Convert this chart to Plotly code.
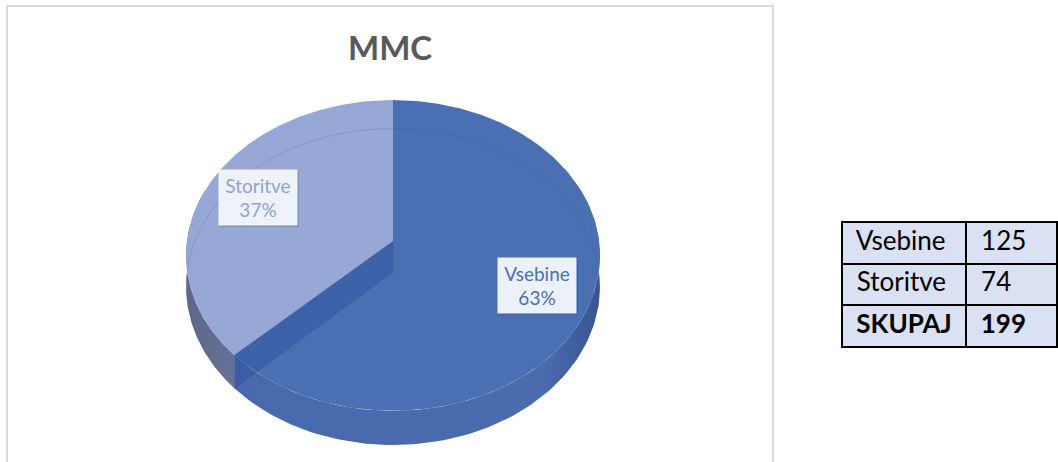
import numpy as np
import plotly.graph_objects as go

# ---------------- data ----------------
title_text = "MMC"
categories = ["Vsebine", "Storitve"]
values = [125, 74]
total_label = "SKUPAJ"

# ---------------- geometry / style ----------------
W, H = 1058, 462
cx, cy = 393, 241        # centre of top face
rx, ry = 206, 154        # radii of top face
persp = 0.093            # perspective factor
depth = 31               # thickness of pie

top_colors = {"Vsebine": "#4A70B3", "Storitve": "#97A8D6"}
side_scales = {
    "Vsebine": [[0, "#3c5a9a"], [0.15, "#4869AC"], [0.85, "#4A6BAD"], [1, "#35528e"]],
    "Storitve": [[0, "#5c6789"], [0.45, "#8190c0"], [1, "#9aa8d4"]],
}
label_text_colors = {"Vsebine": "#4A6FB5", "Storitve": "#8FA3D6"}
label_centers = {"Vsebine": (537, 285), "Storitve": (258, 197)}
FONT = "Lato"


def proj(theta_deg, down=0.0):
    t = np.radians(theta_deg)
    u = -np.cos(t)
    f = 1.0 / (1.0 - persp * u)
    x = cx + rx * np.sin(t) * f
    y = cy + ry * u * f + down * f
    return x, y


total = sum(values)
fracs = [v / total for v in values]
angles = np.concatenate([[0], np.cumsum(fracs) * 360])

fig = go.Figure()

# ---- side walls (front half) ----
for i, cat in enumerate(categories):
    a, b = angles[i], angles[i + 1]
    lo, hi = max(a, 70), min(b, 290)
    if hi <= lo:
        continue
    th = np.linspace(lo, hi, 120)
    xt, yt = proj(th)
    xb, yb = proj(th[::-1], depth)
    xs = np.concatenate([xt, xb, xt[:1]])
    ys = np.concatenate([yt, yb, yt[:1]])
    fig.add_trace(go.Scatter(
        x=xs, y=ys, mode="lines", line=dict(width=0), fill="toself",
        fillgradient=dict(type="horizontal", colorscale=side_scales[cat],
                          start=cx - rx - 2, stop=cx + rx + 8),
        hoverinfo="skip", showlegend=False))

# ---- top faces ----
for i, cat in enumerate(categories):
    a, b = angles[i], angles[i + 1]
    th = np.linspace(a, b, 200)
    xa, ya = proj(th)
    xs = np.concatenate([[cx], xa, [cx]])
    ys = np.concatenate([[cy], ya, [cy]])
    fig.add_trace(go.Scatter(
        x=xs, y=ys, mode="lines", line=dict(width=0), fill="toself",
        fillcolor=top_colors[cat], hoverinfo="skip", showlegend=False))

# ---- cut face seen through (boundary between slices) ----
bnd = angles[1]
ex, ey = proj(bnd)
ebx, eby = proj(bnd, depth)
fig.add_trace(go.Scatter(
    x=[cx, ex, ebx, cx, cx], y=[cy, ey, eby, cy + depth, cy],
    mode="lines", line=dict(width=0.6, color="rgba(40,65,140,0.35)"),
    fill="toself", fillcolor="rgba(45,75,155,0.38)",
    hoverinfo="skip", showlegend=False))

# ---- bottom rim seen through transparent top ----
th = np.linspace(-103, 103, 200)
bx, by = proj(th, depth)
fig.add_trace(go.Scatter(
    x=bx, y=by, mode="lines", line=dict(width=1, color="rgba(50,70,130,0.18)"),
    hoverinfo="skip", showlegend=False))

# ---- table (category rows + bold total row) ----
PAD = "\u00a0"
tbl_col1 = [PAD + c for c in categories]
tbl_col2 = [PAD + str(v) for v in values]
common = dict(fill=dict(color="#D9E1F2"), line=dict(color="black", width=2),
              align="left", height=41.5)
row_font = dict(family=FONT, size=26, color="black")
fig.add_trace(go.Table(
    domain=dict(x=[842 / W, 1.0], y=[1 - 320 / H, 1 - 222 / H]),
    columnwidth=[125, 91],
    header=dict(values=[tbl_col1[0], tbl_col2[0]], font=row_font, **common),
    cells=dict(values=[tbl_col1[1:], tbl_col2[1:]], font=row_font, **common),
))
fig.add_trace(go.Table(
    domain=dict(x=[842 / W, 1.0], y=[1 - 380 / H, 1 - 305 / H]),
    columnwidth=[125, 91],
    header=dict(values=[PAD + total_label, PAD + str(total)],
                font=dict(family=FONT, size=26, color="black", weight="bold"), **common),
    cells=dict(values=[]),
))

# ---- annotations ----
annotations = [dict(x=390, y=47, xref="x", yref="y", text=f"<b>{title_text}</b>",
                    showarrow=False, font=dict(family=FONT, size=33, color="#595959"))]
shapes = [dict(type="rect", xref="x", yref="y", x0=7, x1=773, y0=6, y1=475,
               line=dict(color="#D9D9D9", width=2), fillcolor="rgba(0,0,0,0)", layer="below")]
for i, cat in enumerate(categories):
    pct = round(fracs[i] * 100)
    lx, ly = label_centers[cat]
    shapes.append(dict(type="rect", xref="x", yref="y", x0=lx - 38, x1=lx + 41,
                       y0=ly - 26, y1=ly + 30, line=dict(width=0),
                       fillcolor="rgba(30,45,100,0.18)", layer="above"))
    annotations.append(dict(
        x=lx, y=ly, xref="x", yref="y", text=f"{cat}<br>{pct}%", showarrow=False,
        width=78, height=55, borderpad=0, bgcolor="rgba(244,246,251,0.96)",
        font=dict(family=FONT, size=19, color=label_text_colors[cat])))

fig.update_layout(
    width=W, height=H, margin=dict(l=0, r=0, t=0, b=0, pad=0),
    paper_bgcolor="white", plot_bgcolor="white",
    xaxis=dict(range=[0, W], visible=False, fixedrange=True),
    yaxis=dict(range=[H, 0], visible=False, fixedrange=True),
    annotations=annotations, shapes=shapes, showlegend=False,
)

fig.write_html("out.html", config={"displayModeBar": False},
               post_script="document.body.style.margin='0px';")
